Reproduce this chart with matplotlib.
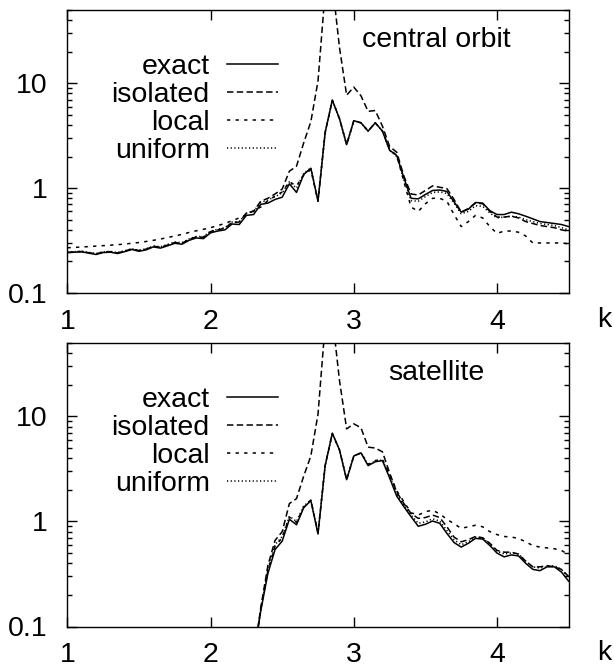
import matplotlib
matplotlib.use("Agg")
import matplotlib.pyplot as plt
from matplotlib.ticker import LogLocator, FixedLocator, NullFormatter, FuncFormatter
from matplotlib.lines import Line2D

plt.rcParams['font.family'] = ['Liberation Sans', 'DejaVu Sans']

# ---------------- data ----------------
k_top = [1.00, 1.05, 1.10, 1.15, 1.20, 1.25, 1.30, 1.35, 1.40, 1.45,
         1.50, 1.55, 1.60, 1.65, 1.70, 1.75, 1.80, 1.85, 1.90, 1.95,
         2.00, 2.05, 2.10, 2.15, 2.20, 2.25, 2.30, 2.35, 2.40, 2.45,
         2.50, 2.55, 2.60, 2.65, 2.70, 2.75, 2.80, 2.85, 2.90, 2.95,
         3.00, 3.05, 3.10, 3.15, 3.20, 3.25, 3.30, 3.35, 3.40, 3.45,
         3.50, 3.55, 3.60, 3.65, 3.70, 3.75, 3.80, 3.85, 3.90, 3.95,
         4.00, 4.05, 4.10, 4.15, 4.20, 4.25, 4.30, 4.35, 4.40, 4.45, 4.50]

central_exact = [0.242, 0.245, 0.247, 0.240, 0.233, 0.243, 0.245, 0.238, 0.248, 0.260,
                 0.250, 0.258, 0.275, 0.268, 0.282, 0.298, 0.292, 0.318, 0.335, 0.330,
                 0.375, 0.39, 0.40, 0.455, 0.45, 0.55, 0.56, 0.70, 0.72, 0.78,
                 0.82, 1.10, 0.91, 1.35, 1.55, 0.75, 3.4, 6.9, 4.6, 2.6,
                 4.4, 4.2, 3.5, 4.2, 3.5, 2.3, 2.05, 1.25, 0.80, 0.79,
                 0.87, 0.95, 0.96, 0.93, 0.74, 0.59, 0.63, 0.73, 0.72, 0.61,
                 0.56, 0.56, 0.59, 0.57, 0.54, 0.51, 0.48, 0.47, 0.46, 0.45, 0.43]

central_isolated = [0.244, 0.247, 0.249, 0.242, 0.236, 0.246, 0.248, 0.241, 0.251, 0.263,
                    0.254, 0.262, 0.279, 0.273, 0.287, 0.303, 0.298, 0.325, 0.343, 0.34,
                    0.385, 0.40, 0.415, 0.47, 0.475, 0.58, 0.60, 0.75, 0.80, 0.88,
                    0.98, 1.45, 1.62, 2.7, 4.3, 10.5, 75.0, 90.0, 22.0, 7.7,
                    9.2, 7.6, 5.4, 5.5, 3.9, 2.5, 2.2, 1.3, 0.88, 0.86,
                    0.95, 1.05, 1.02, 0.99, 0.78, 0.59, 0.64, 0.72, 0.71, 0.60,
                    0.53, 0.53, 0.54, 0.52, 0.48, 0.46, 0.44, 0.43, 0.42, 0.40, 0.39]

central_local = [0.27, 0.272, 0.275, 0.277, 0.28, 0.283, 0.286, 0.289, 0.293, 0.298,
                 0.303, 0.31, 0.318, 0.327, 0.338, 0.35, 0.362, 0.378, 0.392, 0.405,
                 0.42, 0.44, 0.46, 0.49, 0.52, 0.56, 0.61, 0.66, 0.76, 0.84,
                 0.92, 1.15, 1.05, 1.33, 1.5, 0.75, 3.4, 6.9, 4.6, 2.6,
                 4.4, 4.2, 3.5, 4.2, 3.5, 2.35, 2.05, 1.15, 0.66, 0.60,
                 0.71, 0.80, 0.80, 0.75, 0.56, 0.43, 0.48, 0.55, 0.52, 0.43,
                 0.37, 0.39, 0.39, 0.38, 0.35, 0.30, 0.30, 0.30, 0.30, 0.30, 0.295]

central_uniform = [0.245, 0.248, 0.25, 0.244, 0.238, 0.247, 0.249, 0.243, 0.253, 0.264,
                   0.256, 0.264, 0.281, 0.276, 0.29, 0.306, 0.302, 0.328, 0.346, 0.345,
                   0.39, 0.405, 0.42, 0.475, 0.48, 0.575, 0.60, 0.73, 0.77, 0.83,
                   0.90, 1.15, 1.0, 1.38, 1.56, 0.76, 3.4, 6.9, 4.6, 2.6,
                   4.4, 4.2, 3.5, 4.2, 3.5, 2.3, 2.0, 1.2, 0.76, 0.75,
                   0.83, 0.91, 0.92, 0.89, 0.72, 0.57, 0.60, 0.68, 0.67, 0.58,
                   0.52, 0.53, 0.54, 0.53, 0.50, 0.48, 0.46, 0.45, 0.44, 0.42, 0.40]

k_sat = [2.30, 2.35, 2.40, 2.45, 2.50, 2.55, 2.60, 2.65, 2.70, 2.75,
         2.80, 2.85, 2.90, 2.95, 3.00, 3.05, 3.10, 3.15, 3.20, 3.25,
         3.30, 3.35, 3.40, 3.45, 3.50, 3.55, 3.60, 3.65, 3.70, 3.75,
         3.80, 3.85, 3.90, 3.95, 4.00, 4.05, 4.10, 4.15, 4.20, 4.25,
         4.30, 4.35, 4.40, 4.45, 4.50]

sat_exact = [0.05, 0.14, 0.32, 0.54, 0.65, 1.05, 0.93, 1.35, 1.58, 0.76,
             3.4, 6.9, 4.8, 2.5, 4.2, 4.5, 3.4, 3.7, 3.8, 2.6,
             1.74, 1.38, 1.11, 0.90, 0.94, 1.01, 0.96, 0.77, 0.63, 0.57,
             0.62, 0.69, 0.68, 0.59, 0.50, 0.46, 0.48, 0.47, 0.40, 0.35,
             0.34, 0.37, 0.37, 0.33, 0.27]

sat_isolated = [0.05, 0.15, 0.38, 0.66, 0.80, 1.48, 1.65, 2.7, 4.2, 10.5,
                75.0, 90.0, 22.0, 7.6, 8.5, 7.8, 5.1, 5.0, 4.6, 2.9,
                1.9, 1.48, 1.19, 1.07, 1.09, 1.15, 1.09, 0.89, 0.71, 0.64,
                0.67, 0.72, 0.70, 0.62, 0.53, 0.51, 0.51, 0.49, 0.42, 0.37,
                0.37, 0.38, 0.37, 0.35, 0.30]

sat_local = [0.05, 0.145, 0.34, 0.58, 0.70, 1.1, 0.98, 1.38, 1.6, 0.78,
             3.4, 6.9, 4.8, 2.5, 4.2, 4.5, 3.5, 3.8, 3.9, 2.8,
             1.96, 1.54, 1.21, 1.15, 1.24, 1.28, 1.18, 1.05, 0.95, 0.86,
             0.89, 0.92, 0.89, 0.80, 0.75, 0.72, 0.71, 0.69, 0.64, 0.59,
             0.57, 0.56, 0.55, 0.53, 0.48]

sat_uniform = [0.05, 0.145, 0.35, 0.60, 0.72, 1.12, 1.0, 1.4, 1.6, 0.78,
               3.4, 6.9, 4.8, 2.5, 4.2, 4.5, 3.45, 3.75, 3.85, 2.7,
               1.82, 1.42, 1.15, 0.96, 0.99, 1.06, 1.01, 0.82, 0.67, 0.60,
               0.64, 0.71, 0.69, 0.61, 0.52, 0.49, 0.50, 0.49, 0.42, 0.37,
               0.36, 0.37, 0.38, 0.35, 0.29]

series_labels = ["exact", "isolated", "local", "uniform"]
panel_titles = ["central orbit", "satellite"]
x_ticks = [1, 2, 3, 4]
y_ticks = [0.1, 1, 10]

# ---------------- styles ----------------
styles = [
    dict(linestyle='-'),
    dict(linestyle=(0, (4.2, 2.2))),
    dict(linestyle=(0, (2.2, 3.4))),
    dict(linestyle=(0, (0.8, 1.6))),
]
LW = 1.1
FS = 20.5

fig = plt.figure(figsize=(6.14, 6.68), dpi=100)
W, H = 614.0, 668.0
x0, x1 = 67.4, 568.6
ax_top = fig.add_axes([x0 / W, (H - 293) / H, (x1 - x0) / W, 283 / H])
ax_bot = fig.add_axes([x0 / W, (H - 626.5) / H, (x1 - x0) / W, 283.5 / H])

panels = [
    (ax_top, k_top, [central_exact, central_isolated, central_local, central_uniform], panel_titles[0]),
    (ax_bot, k_sat, [sat_exact, sat_isolated, sat_local, sat_uniform], panel_titles[1]),
]

for ax, kk, sers, title in panels:
    for ys, st in zip(sers, styles):
        ax.plot(kk, ys, color='black', lw=LW, **st)
    ax.set_yscale('log')
    ax.set_xlim(1, 4.5)
    ax.set_ylim(0.1, 50)
    ax.xaxis.set_major_locator(FixedLocator(x_ticks))
    ax.yaxis.set_major_locator(FixedLocator(y_ticks))
    ax.yaxis.set_minor_locator(LogLocator(base=10, subs=range(2, 10)))
    ax.yaxis.set_minor_formatter(NullFormatter())
    ax.yaxis.set_major_formatter(FuncFormatter(lambda v, p: {0.1: "0.1", 1: "1", 10: "10"}.get(round(v, 3), "")))
    ax.xaxis.set_major_formatter(FuncFormatter(lambda v, p: "%d" % v))
    ax.tick_params(axis='both', which='major', direction='in', length=7.2, width=1,
                   top=True, right=True, labelsize=FS, colors='black')
    ax.tick_params(axis='y', which='minor', direction='in', length=3.6, width=1,
                   right=True, left=True)
    ax.tick_params(axis='x', which='major', pad=11.5)
    ax.tick_params(axis='y', which='major', pad=14)
    for sp in ax.spines.values():
        sp.set_linewidth(1.0)
    ax.text(1.0706, -0.095, "k", transform=ax.transAxes, ha='center', va='center', fontsize=FS)
    ax.text(0.7354, 0.893, title, transform=ax.transAxes, ha='center', va='center', fontsize=FS)
    handles = [Line2D([], [], color='black', lw=LW, **st) for st in styles]
    ax.legend(handles, series_labels, loc='upper right', bbox_to_anchor=(0.4202, 0.846),
              frameon=False, markerfirst=False, fontsize=FS, handlelength=1.8,
              handletextpad=0.6, labelspacing=0.077, borderpad=0, borderaxespad=0)

fig.savefig("out.png", dpi=100)
